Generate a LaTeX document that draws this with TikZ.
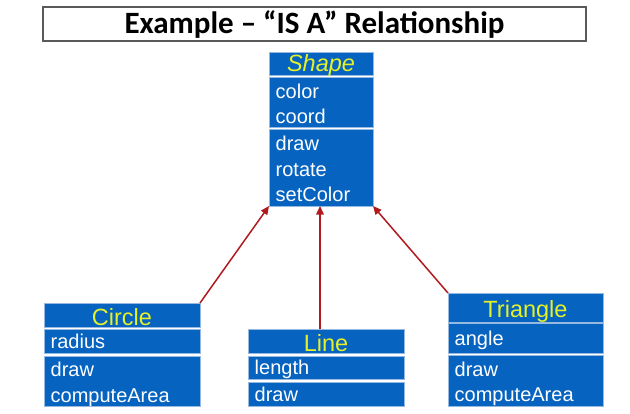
\documentclass[tikz,border=0pt]{standalone}
\usepackage{fontspec}
\setmainfont{Liberation Sans}
\newfontfamily\titlefont{Carlito}
\usetikzlibrary{arrows.meta}
\definecolor{umlblue}{RGB}{6,99,192}
\definecolor{umlyellow}{RGB}{228,240,40}
\definecolor{secborder}{RGB}{150,185,225}
\definecolor{arrowred}{RGB}{176,26,30}
\definecolor{titleborder}{RGB}{90,90,90}
\begin{document}
\begin{tikzpicture}[x=1pt,y=-1pt,
  sec/.style={draw=secborder, line width=0.7pt, fill=umlblue, rectangle,
    anchor=north west, inner sep=0pt, outer sep=0pt},
  itm/.style={anchor=base west, inner sep=0pt, text=white,
    font=\fontsize{20}{24}\selectfont},
  hdrtext/.style={anchor=base, inner sep=0pt, text=umlyellow,
    font=\fontsize{23.5}{26}\selectfont},
  isa/.style={draw=arrowred, line width=1.5pt, -{Triangle[length=8.5pt,width=7.5pt]}}
]
\useasboundingbox (0,0) rectangle (630,413);
% title
\node[draw=titleborder, line width=1.1pt, minimum width=543pt, minimum height=34pt,
  inner sep=0pt, font=\titlefont\bfseries\fontsize{31}{33}\selectfont] (title)
  at (314.5,24) {\raisebox{-1pt}{Example – “IS A” Relationship}};
% Shape
\node[sec, minimum width=104pt, minimum height=23pt] (shapeh) at (269,52) {};
\node[sec, minimum width=104pt, minimum height=50pt] (shapea) at (269,77) {};
\node[sec, minimum width=104pt, minimum height=77pt] (shapem) at (269,129) {};
\node[hdrtext] (shapet) at (321,71) {\itshape Shape};
\node[itm] (shape1) at (275.5,98) {color};
\node[itm] (shape2) at (275.5,123.5) {coord};
\node[itm] (shape3) at (275.5,150.5) {draw};
\node[itm] (shape4) at (275.5,176) {rotate};
\node[itm] (shape5) at (275.5,201.5) {setColor};
% Circle
\node[sec, minimum width=156pt, minimum height=24pt] (circh) at (44,303) {};
\node[sec, minimum width=156pt, minimum height=24pt] (circa) at (44,329) {};
\node[sec, minimum width=156pt, minimum height=50pt] (circm) at (44,356) {};
\node[hdrtext] (circt) at (122,325) {Circle};
\node[itm] (circ1) at (50.5,348.5) {radius};
\node[itm] (circ2) at (50.5,376.5) {draw};
\node[itm] (circ3) at (50.5,402) {computeArea};
% Line
\node[sec, minimum width=156pt, minimum height=24pt] (lineh) at (248,329) {};
\node[sec, minimum width=156pt, minimum height=23pt] (linea) at (248,356) {};
\node[sec, minimum width=156pt, minimum height=24pt] (linem) at (248,382) {};
\node[hdrtext] (linet) at (326,351) {Line};
\node[itm] (line1) at (254.5,374.5) {length};
\node[itm] (line2) at (254.5,401) {draw};
% Triangle
\node[sec, minimum width=155pt, minimum height=29pt] (trih) at (448,293) {};
\node[sec, minimum width=155pt, minimum height=30pt] (tria) at (448,323) {};
\node[sec, minimum width=155pt, minimum height=51pt] (trim) at (448,355) {};
\node[hdrtext] (trit) at (525.5,317) {Triangle};
\node[itm] (tri1) at (454.5,345.5) {angle};
\node[itm] (tri2) at (454.5,376) {draw};
\node[itm] (tri3) at (454.5,401.5) {computeArea};
% arrows
\draw[isa] (circh.north east) -- (shapem.south west);
\draw[isa] ([xshift=-1pt]shapem.south |- lineh.north) -- ([xshift=-1pt]shapem.south);
\draw[isa] (trih.north west) -- (shapem.south east);
\end{tikzpicture}
\end{document}
